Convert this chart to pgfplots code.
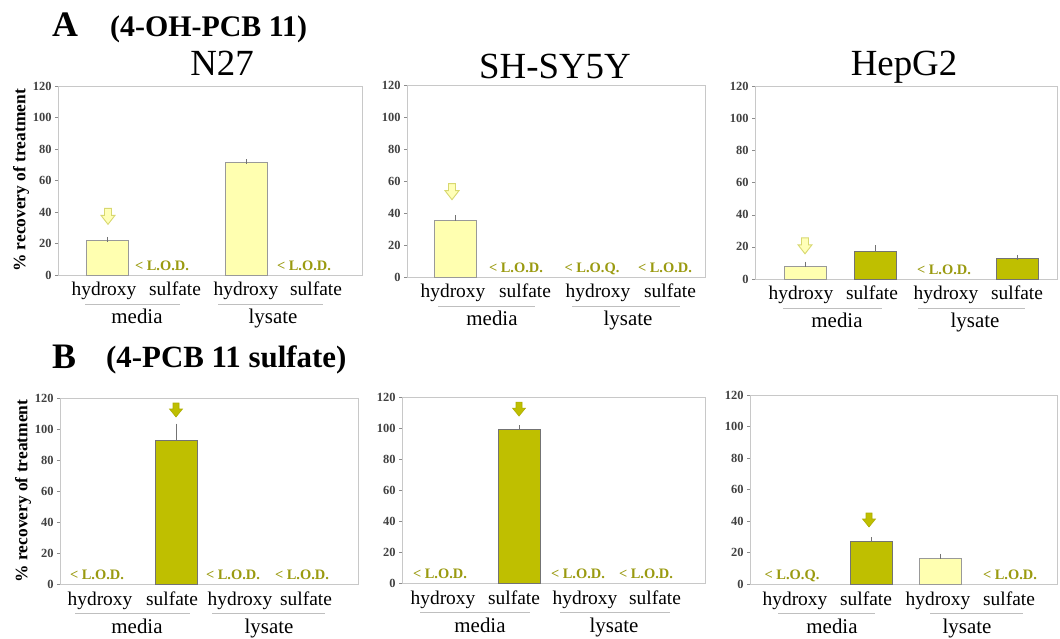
\documentclass[border=0pt]{standalone}
\usepackage{fontspec}
\setmainfont{Liberation Serif}
\usepackage{pgfplots}
\pgfplotsset{compat=1.18}
\definecolor{lightbar}{HTML}{FFFFB0}
\definecolor{darkbar}{HTML}{BFBF00}
\definecolor{lodc}{HTML}{9A9A10}
\definecolor{framec}{HTML}{C8C8C8}
\definecolor{lightarrow}{HTML}{FFFFB8}
\definecolor{arrowline}{HTML}{D8D870}
\pgfplotsset{panel/.style={
  scale only axis, ymin=0, ymax=120, ytick={0,20,...,120}, ytick pos=left,
  axis line style={draw=framec},
  y tick label style={font=\fontsize{12.5}{13}\selectfont\bfseries, text=black!75},
  /pgf/number format/assume math mode=true,
  tick align=outside, major tick length=3bp, ytick style={draw=black!45},
  xtick style={draw=none}, major x tick style={draw=none},
  xticklabels={hydroxy,sulfate,hydroxy,sulfate},
  x tick label style={font=\fontsize{19.5}{20}\selectfont, anchor=base, yshift=-18bp, inner sep=0pt},
  clip=false,
  every axis y label/.style={at={(rel axis cs:0,0.5)}, xshift=-37bp, rotate=90, anchor=center,
     font=\fontsize{17.5}{17.5}\selectfont\bfseries},
},
lb/.style={ybar, bar shift=0pt, bar width=42bp, fill=lightbar, draw=black!40, line width=0.6pt,
  error bars/.cd, y dir=plus, y explicit, error bar style={black!55, line width=0.6pt}, error mark options={black!55, mark size=2.5bp, line width=0.6pt}},
db/.style={ybar, bar shift=0pt, bar width=42bp, fill=darkbar, draw=black!55, line width=0.6pt,
  error bars/.cd, y dir=plus, y explicit, error bar style={black!55, line width=0.6pt}, error mark options={black!55, mark size=2.5bp, line width=0.6pt}}
}
\newcommand{\lod}[3]{\node[font=\fontsize{14.5}{14.5}\selectfont\bfseries, text=lodc, anchor=base] at ([yshift=#2bp]axis cs:#1,0) {< L.O.#3.};}
\newcommand{\gline}[2]{\draw[black!25, line width=0.7pt] ([yshift=-29bp]axis cs:#1,0) -- ([yshift=-29bp]axis cs:#2,0);}
\newcommand{\glab}[2]{\node[font=\fontsize{21}{21}\selectfont, anchor=base] at ([yshift=-49bp]axis cs:#1,0) {#2};}
\newcommand{\harrow}[3]{\draw[draw=arrowline, fill=lightarrow, line width=0.9pt, line join=miter] ([yshift=#3bp]axis cs:#1,#2) ++(-3.5bp,8bp) -- ++(7bp,0bp) -- ++(0bp,-7bp) -- ++(3.5bp,0bp) -- ++(-7bp,-9bp) -- ++(-7bp,9bp) -- ++(3.5bp,0bp) -- cycle;}
\newcommand{\darrow}[3]{\draw[draw=darkbar!90!black, fill=darkbar, line width=0.6pt, line join=miter] ([yshift=#3bp]axis cs:#1,#2) ++(-3bp,7bp) -- ++(6bp,0bp) -- ++(0bp,-6bp) -- ++(3.5bp,0bp) -- ++(-6.5bp,-8bp) -- ++(-6.5bp,8bp) -- ++(3.5bp,0bp) -- cycle;}
\begin{document}
\begin{tikzpicture}
\useasboundingbox (0,0) rectangle (1060bp,639bp);
% titles
\node[anchor=base west, font=\fontsize{36}{36}\selectfont\bfseries, inner sep=0pt] at (52bp,602bp) {A};
\node[anchor=base west, font=\fontsize{30}{30}\selectfont\bfseries, inner sep=0pt] at (110bp,602bp) {(4-OH-PCB 11)};
\node[anchor=base, font=\fontsize{37}{37}\selectfont, inner sep=0pt] at (222bp,563bp) {N27};
\node[anchor=base, font=\fontsize{37}{37}\selectfont, inner sep=0pt] at (555bp,560bp) {SH-SY5Y};
\node[anchor=base, font=\fontsize{37}{37}\selectfont, inner sep=0pt] at (904bp,563bp) {HepG2};
\node[anchor=base west, font=\fontsize{36}{36}\selectfont\bfseries, inner sep=0pt] at (52bp,270bp) {B};
\node[anchor=base west, font=\fontsize{31}{31}\selectfont\bfseries, inner sep=0pt] at (106bp,271bp) {(4-PCB 11 sulfate)};

% ---------- A: N27
\begin{axis}[panel, at={(58bp,364bp)}, anchor=south west, width=304bp, height=189bp,
  xmin=58, xmax=362, xtick={104,175,246,316}, ylabel={\% recovery of treatment}]
\addplot[lb] coordinates {(107,22) +- (0,0.6) (246,71.5) +- (0,0.5)};
\lod{162}{4}{D}\lod{304}{4}{D}
\harrow{108}{22}{24}
\gline{85}{180}\gline{218}{323}
\glab{137}{media}\glab{273}{lysate}
\end{axis}

% ---------- A: SH-SY5Y
\begin{axis}[panel, at={(407bp,362bp)}, anchor=south west, width=298bp, height=192bp,
  xmin=407, xmax=705, xtick={453,525,598,670}]
\addplot[lb] coordinates {(455,35.2) +- (0,1.8)};
\lod{516}{4}{D}\lod{592}{4}{Q}\lod{665}{4}{D}
\harrow{452}{35.2}{29}
\gline{438}{535}\gline{572}{680}
\glab{492}{media}\glab{628}{lysate}
\end{axis}

% ---------- A: HepG2
\begin{axis}[panel, at={(755bp,360bp)}, anchor=south west, width=302bp, height=193bp,
  xmin=755, xmax=1057, xtick={801,872,946,1017}]
\addplot[lb] coordinates {(805,8.2) +- (0,1.1)};
\addplot[db] coordinates {(875,17.4) +- (0,1.9) (1017,13) +- (0,0.5)};
\lod{944}{4}{D}
\harrow{805}{8.2}{20}
\gline{783}{882}\gline{918}{1025}
\glab{837}{media}\glab{975}{lysate}
\end{axis}

% ---------- B: N27
\begin{axis}[panel, at={(60bp,55bp)}, anchor=south west, width=298bp, height=186bp,
  xmin=60, xmax=358, xtick={100,172,240,306}, ylabel={\% recovery of treatment}]
\addplot[db] coordinates {(176,92.9) +- (0,9)};
\lod{97}{5}{D}\lod{233}{5}{D}\lod{302}{5}{D}
\darrow{176}{92.9}{30}
\gline{75}{190}\gline{212}{325}
\glab{137}{media}\glab{269}{lysate}
\end{axis}

% ---------- B: SH-SY5Y
\begin{axis}[panel, at={(402bp,56bp)}, anchor=south west, width=303bp, height=186bp,
  xmin=402, xmax=705, xtick={443,514,585,655}]
\addplot[db] coordinates {(519,99.3) +- (0,0.8)};
\lod{440}{5}{D}\lod{578}{5}{D}\lod{646}{5}{D}
\darrow{519}{99.3}{20}
\gline{420}{530}\gline{560}{670}
\glab{480}{media}\glab{614}{lysate}
\end{axis}

% ---------- B: HepG2
\begin{axis}[panel, at={(750bp,55bp)}, anchor=south west, width=307bp, height=189bp,
  xmin=750, xmax=1057, xtick={795,866,938,1009}]
\addplot[db] coordinates {(871,27.3) +- (0,0.8)};
\addplot[lb] coordinates {(940,16.5) +- (0,1)};
\lod{792}{5}{Q}\lod{1010}{5}{D}
\darrow{869}{27.3}{21}
\gline{778}{875}\gline{930}{1023}
\glab{832}{media}\glab{967}{lysate}
\end{axis}
\end{tikzpicture}
\end{document}
